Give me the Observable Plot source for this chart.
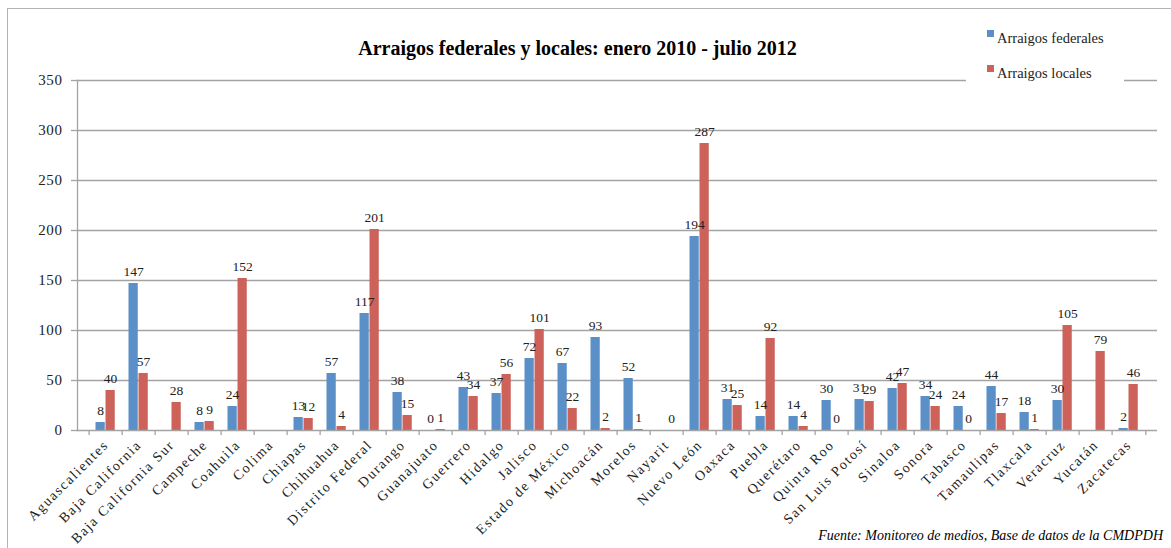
<!DOCTYPE html>
<html>
<head>
<meta charset="utf-8">
<script src="https://cdn.jsdelivr.net/npm/d3@7"></script>
<script src="https://cdn.jsdelivr.net/npm/@observablehq/plot@0.6"></script>
<style>
  html, body { margin: 0; padding: 0; background: #fff; }
  #wrap { position: relative; width: 1171px; height: 548px; overflow: hidden; font-family: "Liberation Serif", "Times New Roman", Times, "DejaVu Serif", serif; }
  #chart { position: absolute; left: 0; top: 0; }
  #chart svg, #chart svg text { font-family: "Liberation Serif", "Times New Roman", Times, serif !important; }
  #chart svg g[aria-label="x-axis tick label"] text { letter-spacing: 1.6px; }
  #chart svg g[aria-label="y-axis tick label"] text { letter-spacing: 0.6px; }
  #border { position: absolute; left: 7px; top: 8px; width: 1200px; height: 600px; border-left: 1.5px solid #b4b4b4; border-top: 1.5px solid #b4b4b4; pointer-events: none; }
  #title { position: absolute; left: 0; top: 37px; width: 1155px; text-align: center; font-weight: bold; font-size: 20px; color: #000; }
  #legend { position: absolute; left: 966px; top: 24px; width: 158px; height: 66px; background: #fff; font-size: 14.5px; color: #222; }
  .item { position: absolute; left: 21px; white-space: nowrap; }
  .sw { display: inline-block; width: 7px; height: 7px; margin-right: 3px; vertical-align: 6px; }
  #caption { position: absolute; right: 8px; top: 528px; font-style: italic; font-size: 14px; color: #000; white-space: nowrap; }
</style>
</head>
<body>
<div id="wrap">
  <div id="chart"></div>
  <div id="border"></div>
  <div id="title"></div>
  <div id="legend"></div>
  <div id="caption"></div>
</div>
<script>
const states = ["Aguascalientes","Baja California","Baja California Sur","Campeche","Coahuila","Colima","Chiapas","Chihuahua","Distrito Federal","Durango","Guanajuato","Guerrero","Hidalgo","Jalisco","Estado de México","Michoacán","Morelos","Nayarit","Nuevo León","Oaxaca","Puebla","Querétaro","Quinta Roo","San Luis Potosí","Sinaloa","Sonora","Tabasco","Tamaulipas","Tlaxcala","Veracruz","Yucatán","Zacatecas"];
const federales = [8,147,null,8,24,null,13,57,117,38,0,43,37,72,67,93,52,null,194,31,14,14,30,31,42,34,24,44,18,30,null,2];
const locales = [40,57,28,9,152,null,12,4,201,15,1,34,56,101,22,2,1,0,287,25,92,4,0,29,47,24,0,17,1,105,79,46];
const yTicks = [0,50,100,150,200,250,300,350];
const seriesNames = ["Arraigos federales","Arraigos locales"];
const colors = ["#5b8fc8","#cc6259"];
const titleText = "Arraigos federales y locales: enero 2010 - julio 2012";
const captionText = "Fuente: Monitoreo de medios, Base de datos de la CMDPDH";

const FONT = "Liberation Serif, Times New Roman, serif";
const fedRows = states.map((s,i)=>({state:s, value:federales[i]})).filter(d=>d.value!=null);
const locRows = states.map((s,i)=>({state:s, value:locales[i]})).filter(d=>d.value!=null);

const W = 1171, H = 548, mL = 77, mR = 14, mT = 80, mB = 118;
const bw = (W - mL - mR) / states.length;

const plot = Plot.plot({
  width: W, height: H,
  marginLeft: mL, marginRight: mR, marginTop: mT, marginBottom: mB,
  style: {fontFamily: FONT, fontSize: "13px", color: "#000", background: "transparent"},
  x: {domain: states, padding: 0, label: null},
  y: {domain: [0, 350], label: null},
  marks: [
    Plot.ruleY(yTicks.filter(d => d > 0), {stroke: "#a3a3a3", strokeWidth: 1.3}),
    Plot.barY(fedRows, {x: "state", y: "value", fill: colors[0], insetLeft: 6.5, insetRight: bw - 16.5}),
    Plot.barY(locRows, {x: "state", y: "value", fill: colors[1], insetLeft: 16.5, insetRight: bw - 26.5}),
    Plot.text(fedRows, {x: "state", y: "value", text: d => String(d.value), dx: -5.4, dy: -8, lineAnchor: "bottom", fontSize: 13.5, fontFamily: FONT, fill: "#222"}),
    Plot.text(locRows, {x: "state", y: "value", text: d => String(d.value), dx: 4.6, dy: -8, lineAnchor: "bottom", fontSize: 13.5, fontFamily: FONT, fill: "#222"}),
    Plot.ruleY([0], {stroke: "#a3a3a3", strokeWidth: 1.3}),
    Plot.frame({anchor: "left", stroke: "#a3a3a3", strokeWidth: 1.3}),
    Plot.ruleX(states, {x: d => d, dx: -bw / 2, insetTop: H - mT - mB, insetBottom: -5, stroke: "#a3a3a3", strokeWidth: 1.3}),
    Plot.ruleX(states.slice(-1), {x: d => d, dx: bw / 2, insetTop: H - mT - mB, insetBottom: -5, stroke: "#a3a3a3", strokeWidth: 1.3}),
    Plot.axisY({ticks: yTicks, tickSize: 6, tickPadding: 9, fontSize: 15, fontFamily: FONT, stroke: "#a3a3a3", strokeWidth: 1.3, fill: "#222", tickFormat: d => String(d)}),
    Plot.axisX({tickRotate: -45, tickSize: 0, tickPadding: 12, fontSize: 14, fontFamily: FONT, fill: "#222"})
  ]
});
document.getElementById("chart").appendChild(plot);

document.getElementById("title").textContent = titleText;
document.getElementById("caption").textContent = captionText;
const legend = document.getElementById("legend");
seriesNames.forEach((name, i) => {
  const it = document.createElement("div");
  it.className = "item";
  it.style.top = (i === 0 ? 6 : 41) + "px";
  const sw = document.createElement("span");
  sw.className = "sw";
  sw.style.background = colors[i];
  it.appendChild(sw);
  it.appendChild(document.createTextNode(name));
  legend.appendChild(it);
});
</script>
</body>
</html>
